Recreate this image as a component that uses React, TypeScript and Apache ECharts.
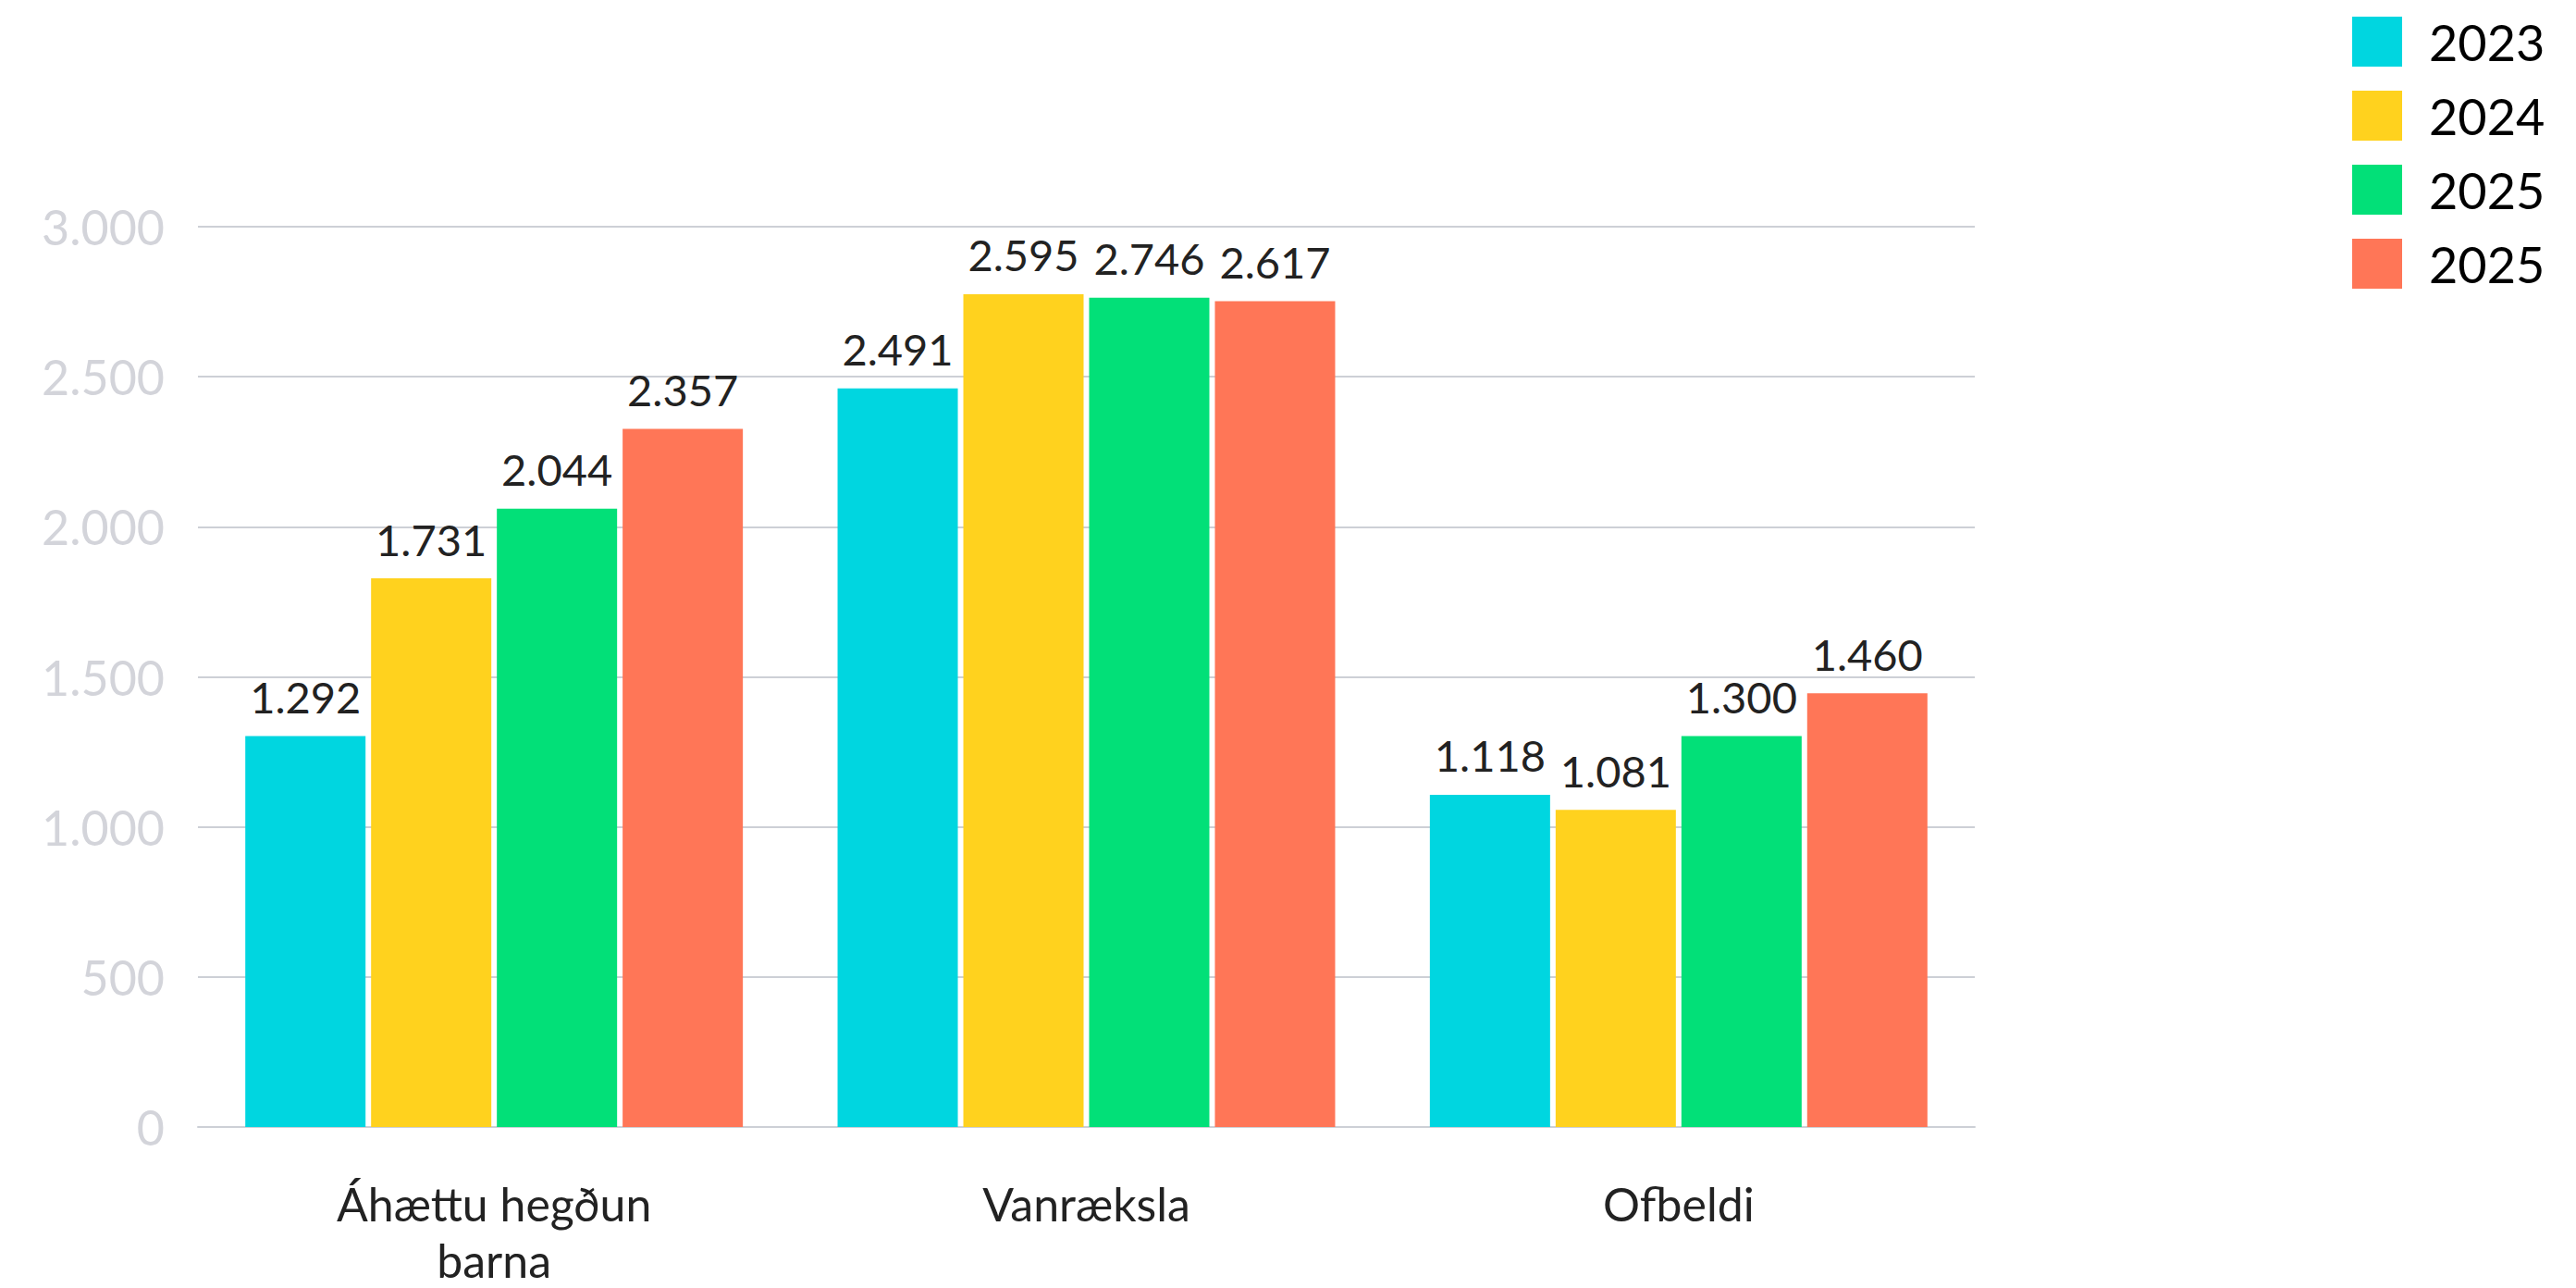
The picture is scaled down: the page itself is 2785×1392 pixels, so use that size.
import React, { useEffect, useRef } from "react";
import * as echarts from "echarts";

const categoryLabels = ["Áhættu hegðun\nbarna", "Vanræksla", "Ofbeldi"];
const seriesKeys = ["2023", "2024", "2025", "2025b"];
const legendLabels = ["2023", "2024", "2025", "2025"];
const seriesColors = ["#00D6E0", "#FFD21E", "#02E078", "#FF7657"];

// bar heights
const values2023 = [1303, 2461, 1107];
const values2024 = [1828, 2775, 1057];
const values2025 = [2060, 2763, 1303];
const values2025b = [2326, 2752, 1445];

// value labels printed above the bars
const labels2023 = ["1.292", "2.491", "1.118"];
const labels2024 = ["1.731", "2.595", "1.081"];
const labels2025 = ["2.044", "2.746", "1.300"];
const labels2025b = ["2.357", "2.617", "1.460"];

const yTickLabels = ["0", "500", "1.000", "1.500", "2.000", "2.500", "3.000"];

const FONT = "Lato";

export default function App() {
  const ref = useRef<HTMLDivElement>(null);
  useEffect(() => {
    if (!ref.current) return;
    const chart = echarts.init(ref.current, null, { renderer: "svg" });
    const allValues = [values2023, values2024, values2025, values2025b];
    const allLabels = [labels2023, labels2024, labels2025, labels2025b];
    chart.setOption({
      animation: false,
      backgroundColor: "#ffffff",
      textStyle: { fontFamily: FONT },
      legend: {
        orient: "vertical",
        left: 2538,
        top: 13,
        itemWidth: 54,
        itemHeight: 54,
        itemGap: 26,
        icon: "rect",
        data: seriesKeys,
        formatter: (name: string) => legendLabels[seriesKeys.indexOf(name)],
        textStyle: {
          fontFamily: FONT,
          fontSize: 54,
          lineHeight: 54,
          color: "#000000",
          padding: [0, 0, 0, 24],
        },
      },
      grid: { left: 214, width: 1921, top: 245, height: 978 },
      xAxis: {
        type: "category",
        data: categoryLabels,
        axisLine: { show: true, lineStyle: { color: "#cdd0d6", width: 2 } },
        axisTick: { show: false },
        axisLabel: {
          fontFamily: FONT,
          fontSize: 50,
          lineHeight: 61,
          color: "#222222",
          margin: 52,
        },
      },
      yAxis: {
        type: "value",
        min: 0,
        max: 3000,
        interval: 500,
        axisLine: { show: false },
        axisTick: { show: false },
        splitLine: { lineStyle: { color: "#cdd0d6", width: 2 } },
        axisLabel: {
          fontFamily: FONT,
          fontSize: 52,
          color: "#d3d4da",
          margin: 36,
          formatter: (v: number) => yTickLabels[Math.round(v / 500)],
        },
      },
      series: seriesKeys.map((key, i) => ({
        name: key,
        type: "bar",
        data: allValues[i],
        barWidth: 130,
        barGap: "4.6%",
        itemStyle: { color: seriesColors[i] },
        label: {
          show: true,
          position: "top",
          distance: 19,
          fontFamily: FONT,
          fontSize: 47,
          color: "#222222",
          formatter: (p: any) => allLabels[i][p.dataIndex],
        },
      })),
    });
    return () => chart.dispose();
  }, []);
  return (
    <div
      ref={ref}
      style={{ position: "fixed", left: 0, top: 0, width: 2785, height: 1392 }}
    />
  );
}
